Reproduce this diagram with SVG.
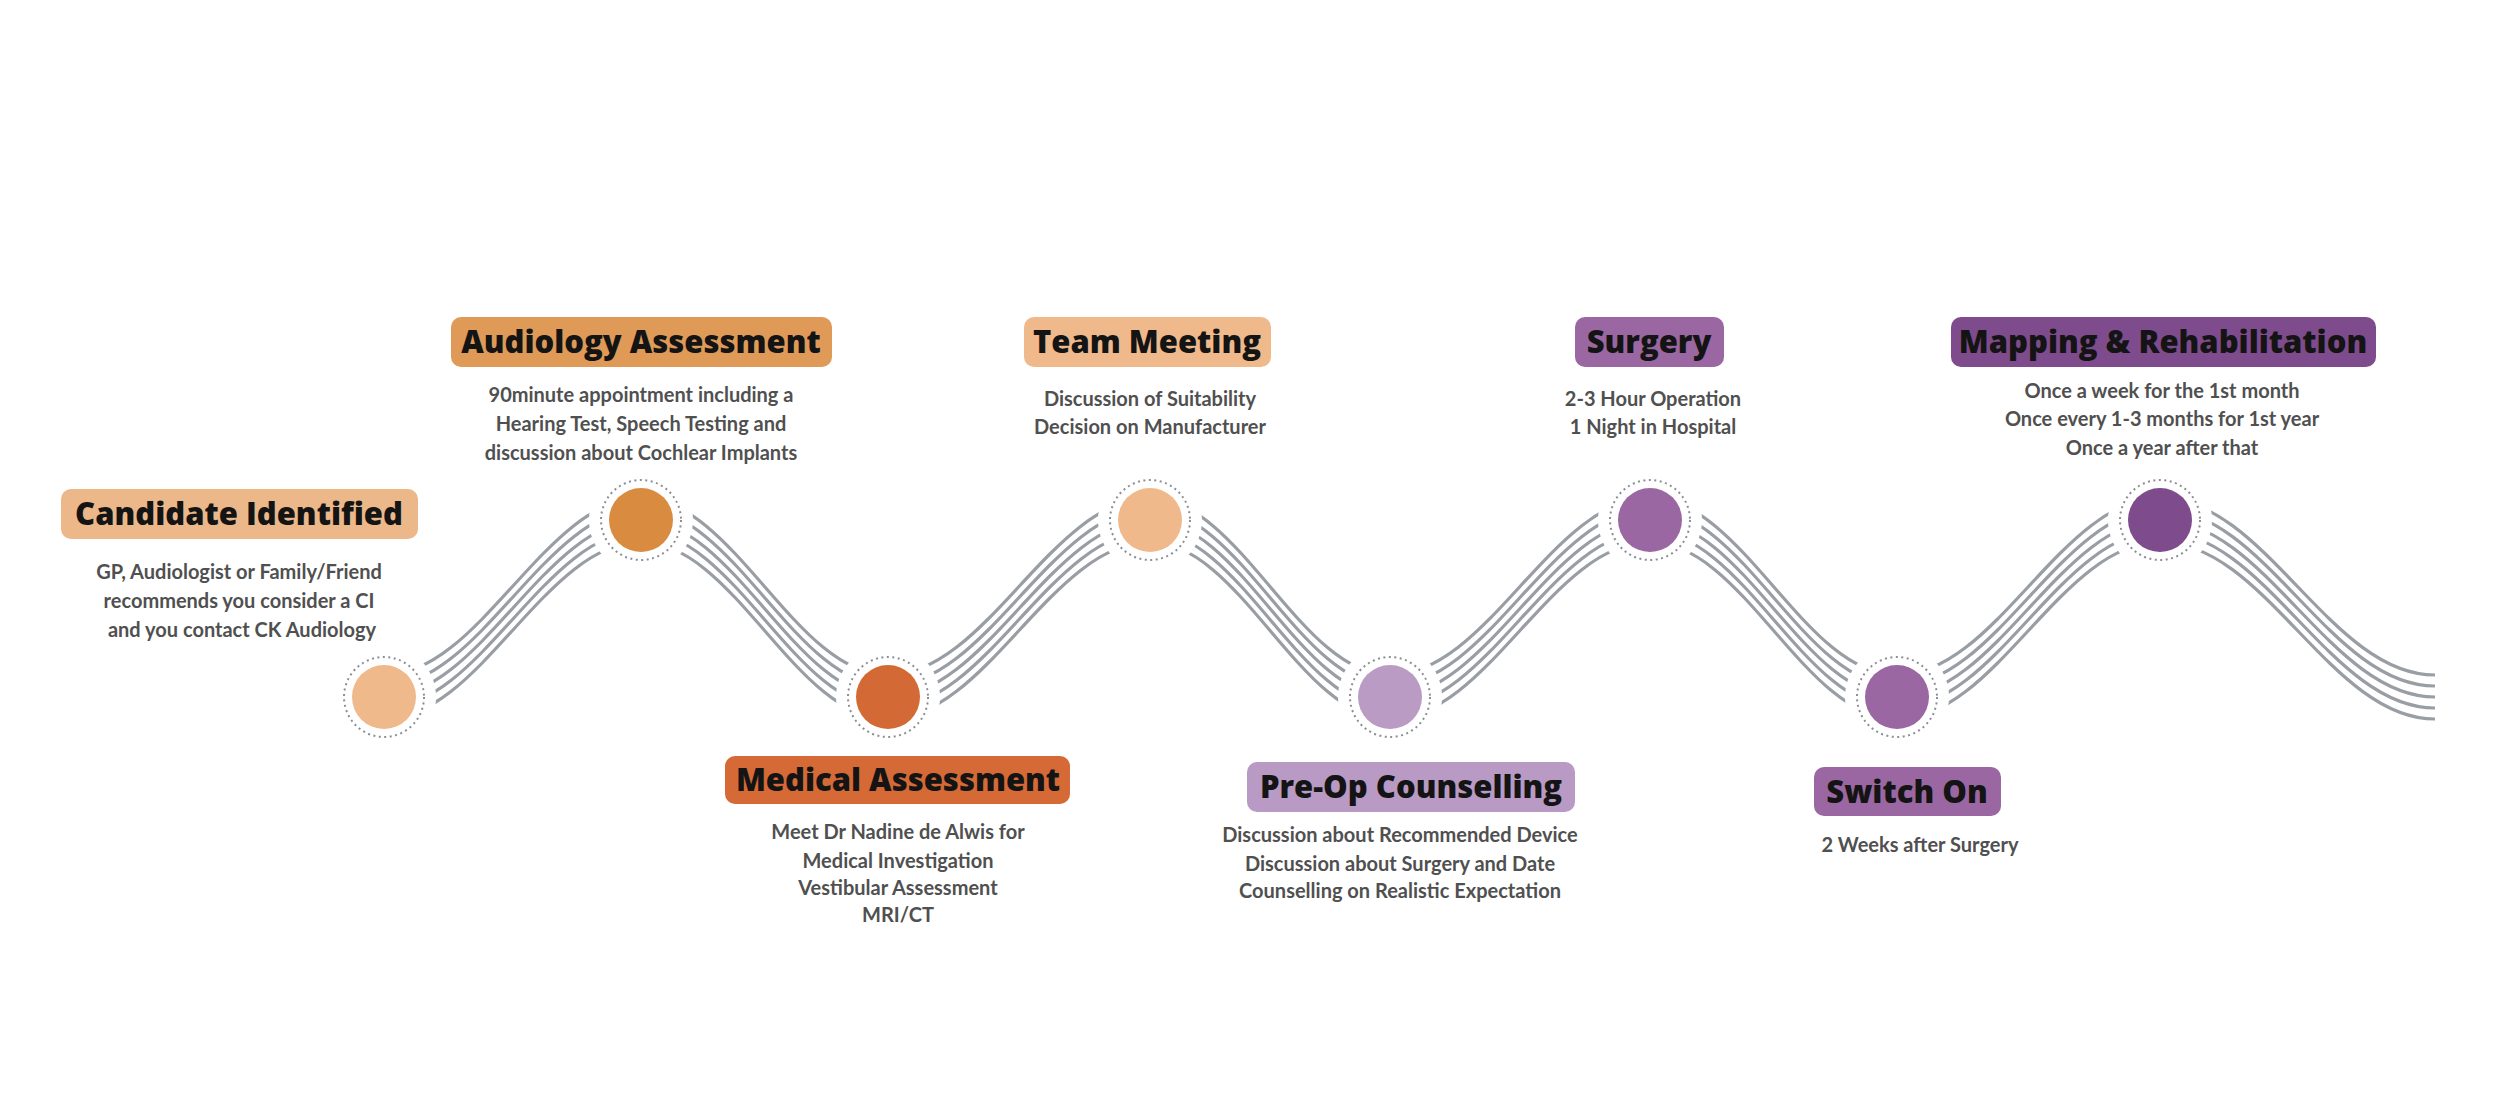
<svg xmlns="http://www.w3.org/2000/svg" xmlns:xlink="http://www.w3.org/1999/xlink" width="2500" height="1100" viewBox="0 0 2500 1100">
<style>
.t{font-family:"Open Sans","Liberation Sans",sans-serif;font-weight:800;font-size:31px;fill:#141414;text-anchor:middle}
.d{font-family:Lato,"Liberation Sans",sans-serif;font-weight:700;font-size:20px;fill:#505050;text-anchor:middle}
.w{fill:none;stroke:#999ea4;stroke-width:3.2}
.gap{fill:#fff}
.ring{fill:#fff;stroke:#8a8f96;stroke-width:2;stroke-dasharray:2 3.5}
</style>
<defs>
<path id="wave" class="w" d="M384,697 C480,697 545,520 641,520 C734,520 795,697 888,697 C986,697 1052,520 1150,520 C1240,520 1300,697 1390,697 C1488,697 1552,520 1650,520 C1743,520 1804,697 1897,697 C1996,697 2061,520 2160,520 C2265,520 2330,697 2435,697"/>
</defs>
<rect width="2500" height="1100" fill="#fff"/>
<g id="connectors">
<use xlink:href="#wave" y="-22"/><use xlink:href="#wave" y="-11"/><use xlink:href="#wave"/><use xlink:href="#wave" y="11"/><use xlink:href="#wave" y="22"/>
</g>
<g id="n1"><circle class="gap" cx="384" cy="697" r="52"/><circle class="ring" cx="384" cy="697" r="40"/><circle cx="384" cy="697" r="32" fill="#f0b98b"/>
<rect x="61" y="489" width="357" height="50" rx="10" fill="#ecb88a"/><text class="t" x="239" y="525">Candidate Identified</text>
<text class="d" x="239" y="579">GP, Audiologist or Family/Friend</text><text class="d" x="239" y="608">recommends you consider a CI</text><text class="d" x="242" y="637">and you contact CK Audiology</text></g>
<g id="n2"><circle class="gap" cx="641" cy="520" r="52"/><circle class="ring" cx="641" cy="520" r="40"/><circle cx="641" cy="520" r="32" fill="#d98b40"/>
<rect x="451" y="317" width="381" height="50" rx="10" fill="#e09a57"/><text class="t" x="641" y="353">Audiology Assessment</text>
<text class="d" x="641" y="402">90minute appointment including a</text><text class="d" x="641" y="431">Hearing Test, Speech Testing and</text><text class="d" x="641" y="460">discussion about Cochlear Implants</text></g>
<g id="n3"><circle class="gap" cx="888" cy="697" r="52"/><circle class="ring" cx="888" cy="697" r="40"/><circle cx="888" cy="697" r="32" fill="#d36a36"/>
<rect x="725" y="756" width="345" height="48" rx="10" fill="#d56a37"/><text class="t" x="898" y="791">Medical Assessment</text>
<text class="d" x="898" y="839">Meet Dr Nadine de Alwis for</text><text class="d" x="898" y="868">Medical Investigation</text><text class="d" x="898" y="895">Vestibular Assessment</text><text class="d" x="898" y="922">MRI/CT</text></g>
<g id="n4"><circle class="gap" cx="1150" cy="520" r="52"/><circle class="ring" cx="1150" cy="520" r="40"/><circle cx="1150" cy="520" r="32" fill="#f0b98b"/>
<rect x="1024" y="317" width="247" height="50" rx="10" fill="#efb98b"/><text class="t" x="1147" y="353">Team Meeting</text>
<text class="d" x="1150" y="406">Discussion of Suitability</text><text class="d" x="1150" y="434">Decision on Manufacturer</text></g>
<g id="n5"><circle class="gap" cx="1390" cy="697" r="52"/><circle class="ring" cx="1390" cy="697" r="40"/><circle cx="1390" cy="697" r="32" fill="#b99bc4"/>
<rect x="1247" y="762" width="328" height="50" rx="10" fill="#b89ac4"/><text class="t" x="1411" y="798">Pre-Op Counselling</text>
<text class="d" x="1400" y="842">Discussion about Recommended Device</text><text class="d" x="1400" y="871">Discussion about Surgery and Date</text><text class="d" x="1400" y="898">Counselling on Realistic Expectation</text></g>
<g id="n6"><circle class="gap" cx="1650" cy="520" r="52"/><circle class="ring" cx="1650" cy="520" r="40"/><circle cx="1650" cy="520" r="32" fill="#9a67a3"/>
<rect x="1575" y="317" width="149" height="50" rx="10" fill="#9a67a3"/><text class="t" x="1649" y="353">Surgery</text>
<text class="d" x="1653" y="406">2-3 Hour Operation</text><text class="d" x="1653" y="434">1 Night in Hospital</text></g>
<g id="n7"><circle class="gap" cx="1897" cy="697" r="52"/><circle class="ring" cx="1897" cy="697" r="40"/><circle cx="1897" cy="697" r="32" fill="#9a67a3"/>
<rect x="1814" y="767" width="187" height="49" rx="10" fill="#9a67a3"/><text class="t" x="1907" y="803">Switch On</text>
<text class="d" x="1920" y="852">2 Weeks after Surgery</text></g>
<g id="n8"><circle class="gap" cx="2160" cy="520" r="52"/><circle class="ring" cx="2160" cy="520" r="40"/><circle cx="2160" cy="520" r="32" fill="#7e4b8d"/>
<rect x="1951" y="317" width="425" height="50" rx="10" fill="#7e4b8d"/><text class="t" x="2163" y="353">Mapping &amp; Rehabilitation</text>
<text class="d" x="2162" y="398">Once a week for the 1st month</text><text class="d" x="2162" y="426">Once every 1-3 months for 1st year</text><text class="d" x="2162" y="455">Once a year after that</text></g>
</svg>
